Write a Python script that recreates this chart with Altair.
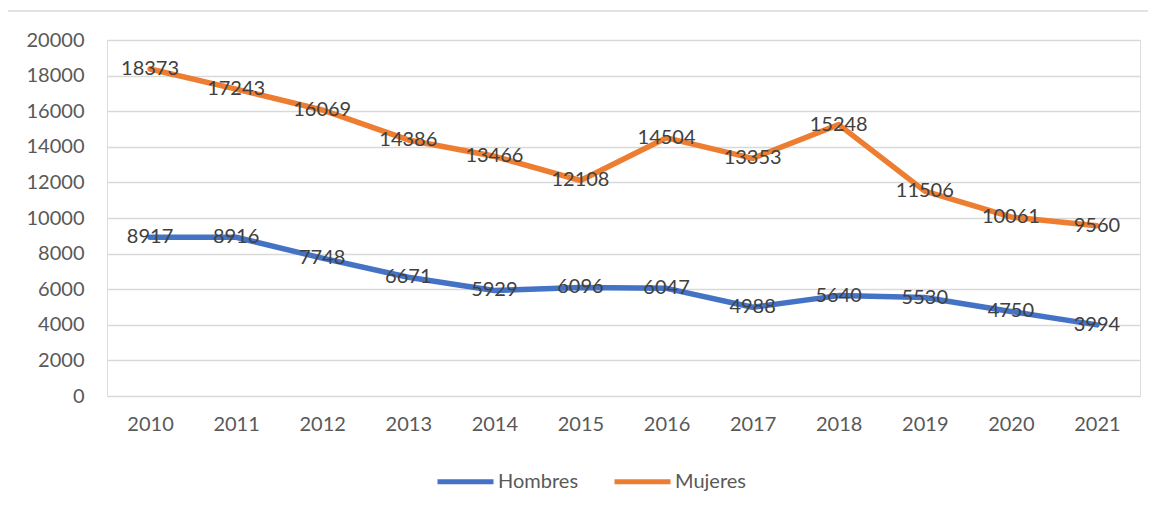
import altair as alt
import pandas as pd

years = ["2010", "2011", "2012", "2013", "2014", "2015", "2016", "2017", "2018", "2019", "2020", "2021"]
hombres = [8917, 8916, 7748, 6671, 5929, 6096, 6047, 4988, 5640, 5530, 4750, 3994]
mujeres = [18373, 17243, 16069, 14386, 13466, 12108, 14504, 13353, 15248, 11506, 10061, 9560]
series = ["Hombres", "Mujeres"]
colors = ["#4472C4", "#ED7D31"]
y_ticks = [0, 2000, 4000, 6000, 8000, 10000, 12000, 14000, 16000, 18000, 20000]

rows = []
for name, vals in zip(series, [hombres, mujeres]):
    for yr, v in zip(years, vals):
        rows.append({"Año": yr, "Serie": name, "Valor": v})
df = pd.DataFrame(rows)

FONT = "Lato"
W, H = 1033, 356

x = alt.X("Año:N", sort=years, scale=alt.Scale(paddingInner=0, paddingOuter=0.5),
          axis=alt.Axis(title=None, labelAngle=0, grid=False, domain=False, ticks=False,
                        labelPadding=18, labelFont=FONT, labelFontSize=20, labelColor="#595959"))
y = alt.Y("Valor:Q", scale=alt.Scale(domain=[0, 20000], nice=False),
          axis=alt.Axis(title=None, values=y_ticks, tickCount=len(y_ticks) + 5, format="d",
                        labelOverlap=False, domain=False, ticks=False, labelPadding=23,
                        gridColor="#d9d9d9", gridWidth=1.5, labelFont=FONT, labelFontSize=20,
                        labelColor="#595959"))
color = alt.Color("Serie:N", scale=alt.Scale(domain=series, range=colors),
                  legend=alt.Legend(title=None, orient="none", legendX=328, legendY=411,
                                    direction="horizontal", symbolType="stroke",
                                    symbolSize=3136, symbolStrokeWidth=5, labelOffset=2,
                                    columnPadding=25, padding=0, labelFont=FONT,
                                    labelFontSize=20, labelColor="#595959"))

base = alt.Chart(df).encode(x=x, y=y)
lines = base.mark_line(strokeWidth=5.5, strokeCap="round", strokeJoin="round").encode(color=color)
labels = base.mark_text(font=FONT, fontSize=20, color="#404040", align="center",
                        baseline="middle").encode(text="Valor:Q")

border_top = alt.Chart(pd.DataFrame({"a": [0]})).mark_rule(color="#d9d9d9", strokeWidth=1.5).encode(
    x=alt.value(-100), x2=alt.value(1050), y=alt.value(-29))
border_left = alt.Chart(pd.DataFrame({"a": [0]})).mark_rule(color="#d9d9d9", strokeWidth=1.5).encode(
    x=alt.value(-100), y=alt.value(-29), y2=alt.value(480))

chart = alt.layer(border_top, border_left, lines, labels).properties(
    width=W, height=H,
    autosize=alt.AutoSizeParams(type="none"),
    padding={"left": 99, "top": 32, "right": 8, "bottom": 100},
).configure_view(stroke=None).configure(background="white")

chart.save("out.html", embed_options={"renderer": "svg", "actions": False})
